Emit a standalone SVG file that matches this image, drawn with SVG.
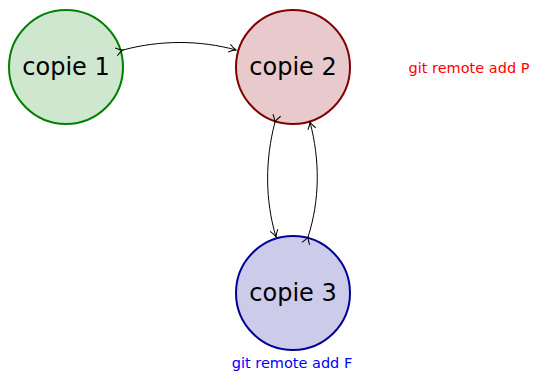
<svg xmlns="http://www.w3.org/2000/svg" width="538" height="375" viewBox="0 0 538 375">
<defs>
<style>
.node circle{stroke-width:2}
.node text{font-family:"DejaVu Sans","Liberation Sans",sans-serif;font-size:24px;text-anchor:middle;fill:#000}
.edge{fill:none;stroke:#000;stroke-width:1}
.lbl{font-family:"DejaVu Sans","Liberation Sans",sans-serif;font-size:14.5px}
</style>
<marker id="tip" viewBox="-8 -5 10 10" markerWidth="10" markerHeight="10" refX="0" refY="0" orient="auto" markerUnits="userSpaceOnUse">
<path d="M-7,-4 Q-3,-1 0,0 Q-3,1 -7,4" fill="none" stroke="#000" stroke-width="1"/>
</marker>
</defs>
<g id="copie1" class="node"><circle cx="66" cy="67" r="57" fill="#cfe6cf" stroke="#008000"/><text x="66" y="75">copie 1</text></g>
<g id="copie2" class="node"><circle cx="293" cy="67" r="57" fill="#e8cacc" stroke="#800000"/><text x="293" y="75">copie 2</text></g>
<g id="copie3" class="node"><circle cx="293" cy="293" r="57" fill="#ccccea" stroke="#000099"/><text x="293" y="301">copie 3</text></g>
<g id="connectors">
<path class="edge" d="M123,50 C160,40 200,40 236,50" marker-start="url(#tip)" marker-end="url(#tip)"/>
<path class="edge" d="M275,122 C265,160 265,200 276,237" marker-start="url(#tip)" marker-end="url(#tip)"/>
<path class="edge" d="M308,237 C320,200 320,160 310,122" marker-start="url(#tip)" marker-end="url(#tip)"/>
</g>
<text class="lbl" x="469" y="73" text-anchor="middle" fill="#ff0000">git remote add P</text>
<text class="lbl" x="292" y="368" text-anchor="middle" fill="#0000ff">git remote add F</text>
</svg>
